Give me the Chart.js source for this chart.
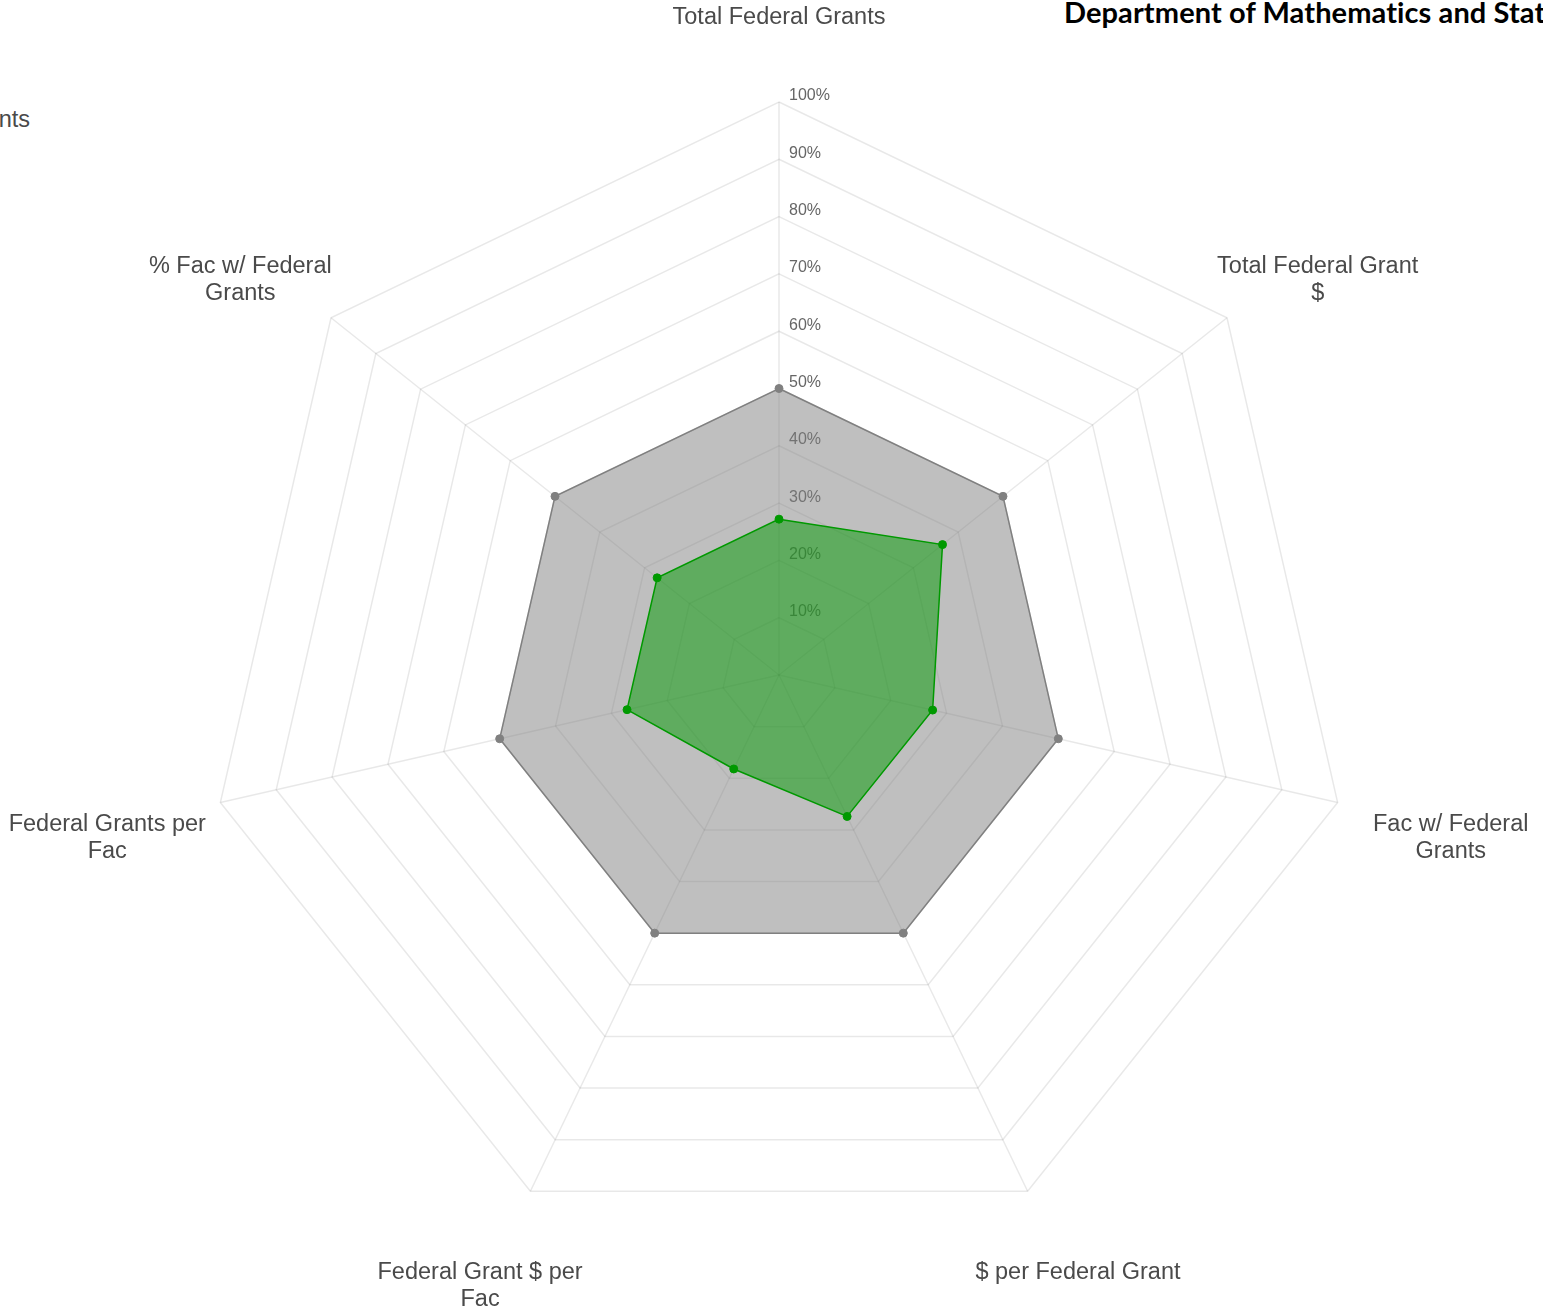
<!DOCTYPE html>
<html>
<head>
<meta charset="utf-8">
<title>Federal Grants radar</title>
<script src="https://cdn.jsdelivr.net/npm/chart.js@4.4.1/dist/chart.umd.min.js"></script>
<style>
  body { margin: 0; background: #fff; overflow: hidden; width: 1543px; height: 1315px; position: relative; }
  #chart { position: absolute; left: 0; top: 0; }
  .title { position: absolute; left: 1064px; top: -3px; white-space: nowrap;
    font: bold 29px Lato, "Open Sans", sans-serif; letter-spacing: 0.1px; line-height: 29px; color: #000; }
  .side { position: absolute; left: -170px; width: 200px; top: 106px; text-align: right; white-space: nowrap;
    font: 23.5px "Liberation Sans", Arial, sans-serif; line-height: 27px; color: #4a4a4a; }
</style>
</head>
<body>
<div class="title">Department of Mathematics and Statistics</div>
<div class="side">Grants</div>
<canvas id="chart" width="1543" height="1315"></canvas>
<script>
// values (percent)
const axisLabels = [
  ['Total Federal Grants'],
  ['Total Federal Grant', '$'],
  ['Fac w/ Federal', 'Grants'],
  ['$ per Federal Grant'],
  ['Federal Grant $ per', 'Fac'],
  ['Federal Grants per', 'Fac'],
  ['% Fac w/ Federal', 'Grants']
];
const deptValues = [27.2, 36.5, 27.5, 27.4, 18.2, 27.2, 27.2];
const refValues = [50, 50, 50, 50, 50, 50, 50];
const tickMin = 0, tickMax = 100, tickStep = 10;

const labelFont = '23.5px "Liberation Sans", Arial, sans-serif';
const tickFont = '16px "Liberation Sans", Arial, sans-serif';

// tick labels sit right of the axis, under the fills; axis labels are centred
const radarText = {
  id: 'radarText',
  beforeDatasetsDraw(chart) {
    const r = chart.scales.r;
    const ctx = chart.ctx;
    ctx.save();
    ctx.font = tickFont;
    ctx.fillStyle = '#666';
    ctx.textAlign = 'left';
    ctx.textBaseline = 'bottom';
    r.ticks.forEach(t => {
      if (t.value === 0) return;
      const y = r.yCenter - r.getDistanceFromCenterForValue(t.value);
      ctx.fillText(t.value + '%', r.xCenter + 10, y + 2);
    });
    ctx.restore();
  },
  afterDraw(chart) {
    const r = chart.scales.r;
    const ctx = chart.ctx;
    const lh = 27;
    ctx.save();
    ctx.font = labelFont;
    ctx.fillStyle = '#4a4a4a';
    ctx.textAlign = 'center';
    ctx.textBaseline = 'middle';
    axisLabels.forEach((lines, i) => {
      const a = r.getIndexAngle(i);
      const p = r.getPointPosition(i, r.drawingArea);
      // first line sits on an ellipse around the outer ring
      const x = p.x + 116 * Math.sin(a);
      const y = p.y - 87 * Math.cos(a) + 3;
      lines.forEach((ln, k) => ctx.fillText(ln, x, y + lh * k));
    });
    ctx.restore();
  }
};

new Chart(document.getElementById('chart'), {
  type: 'radar',
  data: {
    labels: axisLabels,
    datasets: [{
      label: 'Department',
      data: deptValues,
      backgroundColor: 'rgba(0,153,0,0.5)',
      borderColor: 'rgb(0,153,0)',
      borderWidth: 1.5,
      pointBackgroundColor: 'rgb(0,153,0)',
      pointBorderColor: 'rgb(0,153,0)',
      pointRadius: 4,
      pointBorderWidth: 1
    }, {
      label: 'Reference',
      data: refValues,
      backgroundColor: 'rgba(128,128,128,0.5)',
      borderColor: 'rgb(128,128,128)',
      borderWidth: 1.5,
      pointBackgroundColor: 'rgb(128,128,128)',
      pointBorderColor: 'rgb(128,128,128)',
      pointRadius: 4,
      pointBorderWidth: 1
    }]
  },
  options: {
    responsive: false,
    animation: false,
    layout: { padding: { left: 206, right: 191, top: 102, bottom: 67 } },
    plugins: { legend: { display: false }, tooltip: { enabled: false } },
    scales: {
      r: {
        min: tickMin,
        max: tickMax,
        ticks: { stepSize: tickStep, display: false },
        grid: { color: 'rgba(0,0,0,0.09)', lineWidth: 1.5 },
        angleLines: { color: 'rgba(0,0,0,0.09)', lineWidth: 1.5 },
        pointLabels: { display: false }
      }
    }
  },
  plugins: [radarText]
});
</script>
</body>
</html>
